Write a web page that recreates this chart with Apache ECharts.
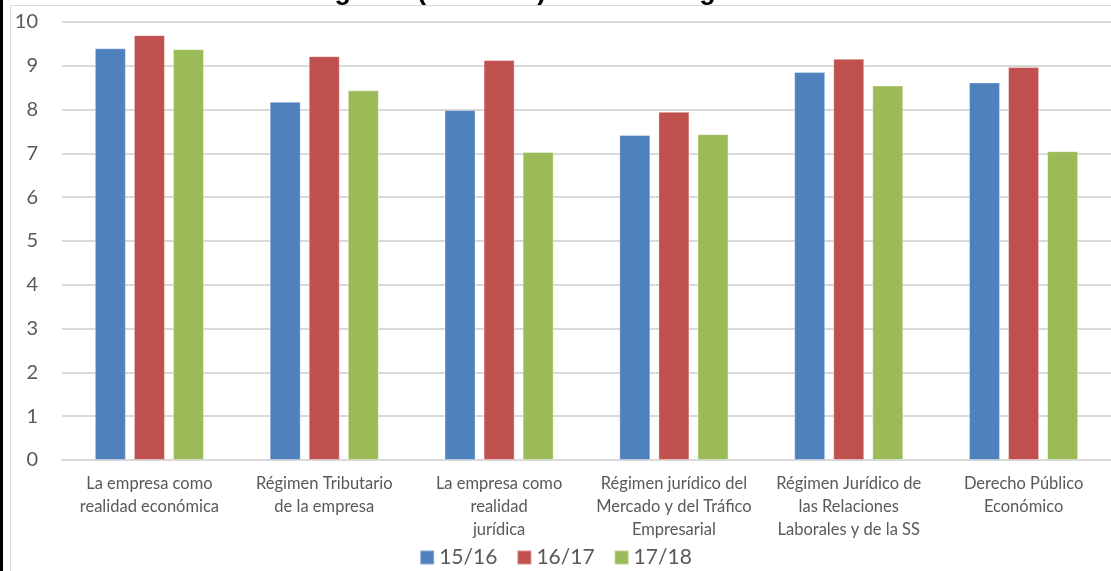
<!DOCTYPE html>
<html>
<head>
<meta charset="utf-8">
<script src="https://cdn.jsdelivr.net/npm/echarts@6/dist/echarts.min.js"></script>
<style>
html,body{margin:0;padding:0;background:#fff;}
#chart{width:1111px;height:571px;}
</style>
</head>
<body>
<div id="chart"></div>
<script>
const titleText = 'Gráfico 3. Valoración del grado (sobre 10) de cada asignatura';
const categories = [
  'La empresa como\nrealidad económica',
  'Régimen Tributario\nde la empresa',
  'La empresa como\nrealidad\njurídica',
  'Régimen jurídico del\nMercado y del Tráfico\nEmpresarial',
  'Régimen Jurídico de\nlas Relaciones\nLaborales y de la SS',
  'Derecho Público\nEconómico'
];
const seriesNames = ['15/16', '16/17', '17/18'];
const values1516 = [9.40, 8.18, 7.99, 7.42, 8.86, 8.62];
const values1617 = [9.70, 9.22, 9.13, 7.95, 9.16, 8.97];
const values1718 = [9.38, 8.44, 7.03, 7.44, 8.55, 7.05];
const colors = ['#4F81BD', '#C0504D', '#9BBB59'];
const yTicks = {min: 0, max: 10, interval: 1};

const chart = echarts.init(document.getElementById('chart'));
const font = 'Lato, "Open Sans", sans-serif';
const dataSets = [values1516, values1617, values1718];
chart.setOption({
  animation: false,
  color: colors,
  textStyle: {fontFamily: font},
  graphic: [
    {type: 'rect', shape: {x: 0, y: 0, width: 3, height: 571}, style: {fill: '#000'}},
    {type: 'rect', shape: {x: 10.5, y: 5.5, width: 1200, height: 700}, style: {fill: 'none', stroke: '#d9d9d9', lineWidth: 1}},
    {type: 'text', left: 12, top: -22, style: {text: titleText, fill: '#000', font: 'bold 27px Arial, "Liberation Sans", sans-serif'}}
  ],
  legend: {
    data: seriesNames,
    left: 'center',
    top: 542,
    itemWidth: 14,
    itemHeight: 14,
    itemGap: 19,
    icon: 'rect',
    textStyle: {fontSize: 21, color: '#595959', fontFamily: font}
  },
  grid: {left: 62, top: 22, width: 1059, height: 438, containLabel: false},
  xAxis: {
    type: 'category',
    data: categories,
    axisLine: {lineStyle: {color: '#d9d9d9', width: 2}},
    axisTick: {show: false},
    axisLabel: {color: '#595959', fontSize: 16.5, lineHeight: 23, margin: 12, interval: 0, fontFamily: font}
  },
  yAxis: {
    type: 'value',
    min: yTicks.min, max: yTicks.max, interval: yTicks.interval,
    axisLine: {show: false},
    axisTick: {show: false},
    splitLine: {lineStyle: {color: '#d9d9d9', width: 2}},
    axisLabel: {color: '#595959', fontSize: 20, margin: 24, fontFamily: font}
  },
  series: seriesNames.map((n, i) => ({
    name: n,
    type: 'bar',
    data: dataSets[i],
    barWidth: 31,
    barGap: '26%',
    itemStyle: {color: colors[i], borderColor: 'rgba(255,255,255,0.35)', borderWidth: 1}
  }))
});
</script>
</body>
</html>
